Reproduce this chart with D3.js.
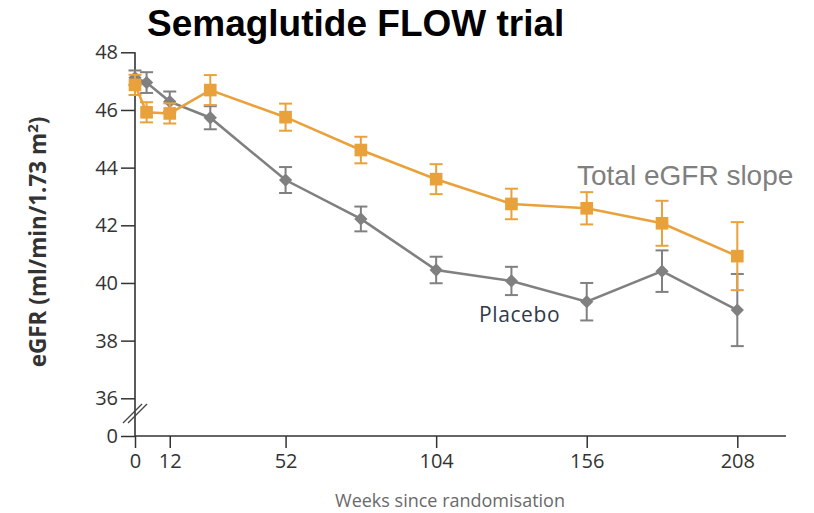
<!DOCTYPE html>
<html>
<head>
<meta charset="utf-8">
<script src="https://cdn.jsdelivr.net/npm/d3@7"></script>
<style>
  html, body { margin: 0; padding: 0; background: #ffffff; }
  svg { display: block; }
</style>
</head>
<body>
<svg id="chart" width="814" height="513"></svg>
<script>
// eGFR over time, semaglutide vs placebo
const weeks = [0, 4, 12, 26, 52, 78, 104, 130, 156, 182, 208];
const semaglutide = [46.87, 45.92, 45.88, 46.69, 45.75, 44.61, 43.60, 42.74, 42.59, 42.07, 40.93];
const semaglutideErr = [0.35, 0.35, 0.35, 0.52, 0.47, 0.46, 0.52, 0.53, 0.56, 0.78, 1.18];
const placebo = [47.12, 46.95, 46.29, 45.73, 43.57, 42.22, 40.45, 40.07, 39.35, 40.41, 39.06];
const placeboErr = [0.25, 0.36, 0.35, 0.40, 0.45, 0.43, 0.46, 0.49, 0.65, 0.72, 1.25];
const xTicks = [0, 12, 52, 104, 156, 208];
const yTicks = [0, 36, 38, 40, 42, 44, 46, 48];

const svg = d3.select("#chart");

// broken y axis: 0 sits just below 36
const x = d3.scaleLinear().domain([0, 208]).range([135, 737.3]);
const y = d3.scaleLinear().domain([0, 36, 48]).range([436, 398.3, 52.3]);

const axisColor = "#333333";
const orange = "#E9A23B";
const grey = "#808080";

// y axis
const yAxis = svg.append("g")
  .attr("transform", "translate(135,0)")
  .call(d3.axisLeft(y).tickValues(yTicks).tickSize(14).tickPadding(3).tickFormat(d3.format("d")));
yAxis.select(".domain").remove();
yAxis.selectAll(".tick line").attr("stroke", axisColor).attr("stroke-width", 1.5);
yAxis.selectAll(".tick text")
  .attr("fill", "#333333")
  .style("font-family", "'Open Sans', sans-serif")
  .style("font-size", "20px");
svg.append("line")
  .attr("x1", 135).attr("x2", 135)
  .attr("y1", y(48)).attr("y2", y(0))
  .attr("stroke", axisColor).attr("stroke-width", 1.6);

// axis break marks
[0, 5].forEach(off => {
  svg.append("line")
    .attr("x1", 123 + off).attr("y1", 423)
    .attr("x2", 142 + off).attr("y2", 404)
    .attr("stroke", "#444").attr("stroke-width", 1.3);
});

// x axis
const xAxis = svg.append("g")
  .attr("transform", `translate(0,${y(0)})`)
  .call(d3.axisBottom(x).tickValues(xTicks).tickSize(12).tickPadding(6).tickFormat(d3.format("d")));
xAxis.select(".domain").remove();
xAxis.selectAll(".tick line").attr("stroke", axisColor).attr("stroke-width", 1.5);
xAxis.selectAll(".tick text")
  .attr("fill", "#333333")
  .style("font-family", "'Open Sans', sans-serif")
  .style("font-size", "20px");
svg.append("line")
  .attr("x1", 135).attr("x2", 786)
  .attr("y1", y(0)).attr("y2", y(0))
  .attr("stroke", axisColor).attr("stroke-width", 1.6);

// series
function drawSeries(values, errs, color, symbol, size, rotate) {
  const pts = weeks.map((w, i) => ({ w, v: values[i], e: errs[i] }));
  const g = svg.append("g");
  const bars = g.selectAll("g.err").data(pts).enter().append("g");
  bars.append("line")
    .attr("x1", d => x(d.w)).attr("x2", d => x(d.w))
    .attr("y1", d => y(d.v - d.e)).attr("y2", d => y(d.v + d.e))
    .attr("stroke", color).attr("stroke-width", 2);
  [-1, 1].forEach(s => {
    bars.append("line")
      .attr("x1", d => x(d.w) - 6.5).attr("x2", d => x(d.w) + 6.5)
      .attr("y1", d => y(d.v + s * d.e)).attr("y2", d => y(d.v + s * d.e))
      .attr("stroke", color).attr("stroke-width", 2);
  });
  g.append("path")
    .datum(pts)
    .attr("fill", "none")
    .attr("stroke", color)
    .attr("stroke-width", 2.6)
    .attr("d", d3.line().x(d => x(d.w)).y(d => y(d.v)));
  g.selectAll("path.m").data(pts).enter().append("path")
    .attr("d", d3.symbol().type(symbol).size(size))
    .attr("transform", d => `translate(${x(d.w)},${y(d.v)}) rotate(${rotate})`)
    .attr("fill", color);
}

drawSeries(placebo, placeboErr, grey, d3.symbolSquare, 88, 45);
drawSeries(semaglutide, semaglutideErr, orange, d3.symbolSquare, 160, 0);

// labels
svg.append("text")
  .attr("x", 147).attr("y", 36)
  .style("font-family", "'Liberation Sans', Arial, sans-serif")
  .style("font-weight", "bold")
  .style("font-size", "37px")
  .attr("fill", "#000")
  .text("Semaglutide FLOW trial");

svg.append("text")
  .attr("x", 577).attr("y", 185)
  .style("font-family", "'Liberation Sans', Arial, sans-serif")
  .style("font-size", "28px")
  .attr("fill", "#7f7f7f")
  .text("Total eGFR slope");

svg.append("text")
  .attr("x", 479).attr("y", 322)
  .style("font-family", "'Open Sans', sans-serif")
  .style("font-size", "21px")
  .style("letter-spacing", "0.6px")
  .attr("fill", "#2f3a4a")
  .text("Placebo");

svg.append("text")
  .attr("x", 450).attr("y", 507)
  .attr("text-anchor", "middle")
  .style("font-family", "'Open Sans', sans-serif")
  .style("font-size", "18px")
  .attr("fill", "#6a6a6a")
  .text("Weeks since randomisation");

const yl = svg.append("text")
  .attr("transform", "translate(46,242) rotate(-90)")
  .attr("text-anchor", "middle")
  .style("font-family", "'Open Sans', sans-serif")
  .style("font-weight", "bold")
  .style("font-size", "22.5px")
  .attr("fill", "#333333");
yl.append("tspan").text("eGFR (ml/min/1.73 m");
yl.append("tspan").attr("dy", -8).style("font-size", "15px").text("2");
yl.append("tspan").attr("dy", 8).text(")");
</script>
</body>
</html>
